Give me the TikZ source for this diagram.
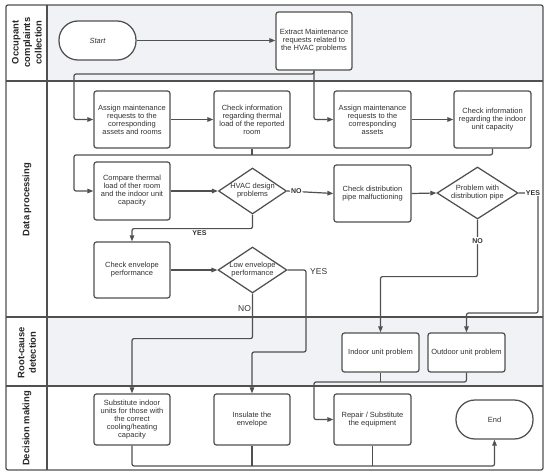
\documentclass[tikz,border=0pt]{standalone}
\usepackage{fontspec}
\setmainfont{Liberation Sans}
\usetikzlibrary{shapes.geometric,arrows.meta}
\definecolor{lanegray}{RGB}{241,242,245}
\definecolor{linegray}{RGB}{80,80,80}
\definecolor{textgray}{RGB}{50,50,50}

\begin{document}
\begin{tikzpicture}[x=1pt,y=-1pt,
  box/.style={draw=linegray,line width=1.25pt,fill=white,rounded corners=2.5pt,minimum width=76pt,minimum height=57pt,align=center,inner sep=1pt,text=textgray,font=\fontsize{7.5}{8}\selectfont},
  term/.style={box,rounded corners=19pt,minimum height=39pt},
  dia/.style={diamond,draw=linegray,line width=1.25pt,fill=white,aspect=1.5,inner sep=0pt,align=center,text=textgray,font=\fontsize{7.5}{8}\selectfont,minimum width=68pt,minimum height=46pt},
  flow/.style={draw=linegray,line width=1.2pt,rounded corners=2pt,-{Triangle[length=6pt,width=4.5pt]}},
  wire/.style={draw=linegray,line width=1.2pt,rounded corners=2pt},
  yn/.style={font=\bfseries\fontsize{7}{8}\selectfont,text=textgray,fill=white,inner sep=1pt},
  yn2/.style={font=\fontsize{8.5}{10}\selectfont,text=textgray,inner sep=1pt},
  lane/.style={font=\bfseries\fontsize{9.4}{11.5}\selectfont,text=black!85,align=center,rotate=90}]
\useasboundingbox (0,0) rectangle (550,476);
\fill[lanegray] (47,5) rectangle (543,81);
\fill[lanegray] (47,317) rectangle (543,386);
\draw[linegray,line width=1.25pt,rounded corners=2pt] (6,5) rectangle (543,470);
\draw[linegray,line width=1.25pt] (47,5) -- (47,470);
\draw[linegray,line width=1.25pt] (6,81) -- (543,81);
\draw[linegray,line width=1.25pt] (6,317) -- (543,317);
\draw[linegray,line width=1.25pt] (6,386) -- (543,386);
\node[lane] (lab1) at (27,42.5) {Occupant\\complaints\\collection};
\node[lane] (lab2) at (27,199.5) {Data processing};
\node[lane] (lab3) at (27,352.5) {Root-cause\\detection};
\node[lane] (lab4) at (27,428.5) {Decision making};

\node[term,minimum width=77pt] (start) at (97.5,40.5) {\itshape Start};
\node[box,minimum height=58pt] (extract) at (314,41) {Extract Maintenance\\requests related to\\the HVAC problems};
\node[box] (assign1) at (132,119.5) {Assign maintenance\\requests to the\\corresponding\\assets and rooms};
\node[box] (thermal) at (252,119.5) {Check information\\regarding thermal\\load of the reported\\room};
\node[box,minimum width=77pt] (assign2) at (372.5,119.5) {Assign maintenance\\requests to the\\corresponding\\assets};
\node[box,minimum width=77pt] (indoorcap) at (492.5,119.5) {Check information\\regarding the indoor\\unit capacity};
\node[box,minimum height=58pt] (compare) at (132,191) {Compare thermal\\load of ther room\\and the indoor unit\\capacity};
\node[dia] (hvac) at (252.5,191) {HVAC design\\problems};
\node[box,minimum width=77pt] (distpipe) at (372.5,193.5) {Check distribution\\pipe malfuctioning};
\node[dia,minimum width=81pt,minimum height=52pt] (distdia) at (477.5,193) {Problem with\\distribution pipe};
\node[box,minimum height=56pt] (envelope) at (132,270) {Check envelope\\performance};
\node[dia] (lowenv) at (252.5,270) {Low envelope\\performance};
\node[box,minimum width=77pt,minimum height=39pt] (indoorprob) at (380.5,352.5) {Indoor unit problem};
\node[box,minimum width=77pt,minimum height=39pt] (outdoorprob) at (466.5,352.5) {Outdoor unit problem};
\node[box,minimum height=51pt] (substitute) at (132,419.5) {Substitute indoor\\units for those with\\the correct\\cooling/heating\\capacity};
\node[box,minimum height=51pt] (insulate) at (252,419.5) {Insulate the\\envelope};
\node[box,minimum width=77pt,minimum height=51pt] (repair) at (372.5,419.5) {Repair / Substitute\\the equipment};
\node[term,minimum width=77pt] (endnode) at (494.5,419.5) {End};

\coordinate (c1) at (74,74);
\coordinate (c2) at (74,155);
\coordinate (c3) at (538,193);
\coordinate (c4) at (306,270);
\coordinate (c5) at (314,382);
\coordinate (bot) at (494.5,466);

\draw[flow] (start.east) -- (start.east -| extract.west);
\draw[flow] (extract.south) |- (c1) |- (assign1.west);
\draw[flow] (extract.south) |- (assign2.west);
\draw[flow] (assign1) -- (thermal);
\draw[flow] (assign2) -- (indoorcap);
\draw[flow] (indoorcap.south) |- (c2) |- (compare.west);
\draw[wire] (thermal.south) -- (thermal.south |- c2);
\draw[flow] (compare) -- (hvac.west);
\draw[flow] (hvac.east) -- node[yn,pos=0.2] {NO} (distpipe.west);
\draw[flow] (distpipe.east) -- (distdia.west);
\draw[flow] (distdia.east) -- (c3) -- ++(0,120) -| (outdoorprob.north);
\node[yn] (yes1) at (533,193) {YES};
\draw[flow] (distdia.south) -- node[yn,pos=0.37] {NO} ++(0,57) -| (indoorprob.north);
\draw[flow] (hvac.south) -- ++(0,14) -| node[yn,fill=none,pos=0.22,below] {YES} (envelope.north);
\draw[flow] (envelope) -- (lowenv.west);
\draw[flow] (lowenv.east) -- (c4) -- ++(0,82) -| (insulate.north);
\node[yn2,anchor=west] (yes2) at (309,272) {YES};
\draw[flow] (lowenv.south) -- node[yn2,pos=0.33,left] {NO} ++(0,45) -| (substitute.north);
\draw[flow] (outdoorprob.south) |- (c5) |- (repair.west);
\draw[wire] (indoorprob.south) -- (indoorprob.south |- c5);
\draw[flow] (substitute.south) |- (bot) -- (endnode.south);
\draw[wire] (insulate.south) -- (insulate.south |- bot);
\draw[wire] (repair.south) -- (repair.south |- bot);
\end{tikzpicture}
\end{document}
